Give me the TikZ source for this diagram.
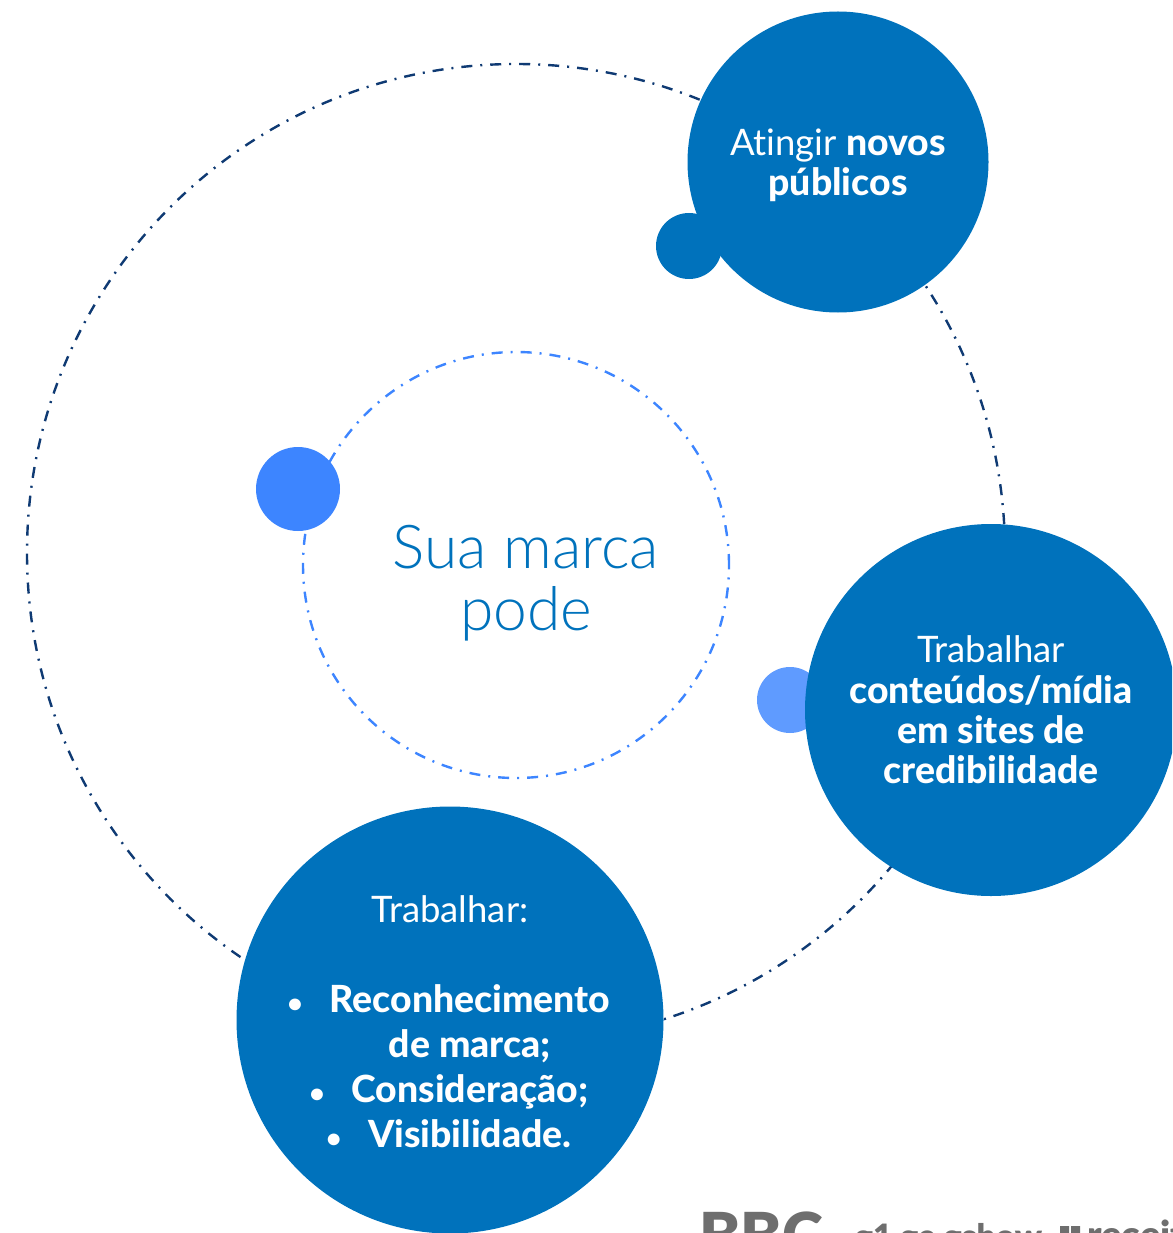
\documentclass[tikz,border=0pt]{standalone}
\usepackage{fontspec}
\setmainfont{Lato}[UprightFont=*,BoldFont=* Heavy,BoldFeatures={Scale=1.025},Ligatures=NoCommon]
\newfontfamily\titlefont{Lato}[UprightFont=* Light]
\newfontfamily\logofont{Lato}[UprightFont=* Black]
\definecolor{brandblue}{HTML}{0072BC}
\definecolor{ringnavy}{HTML}{0F3A73}
\definecolor{ringblue}{HTML}{3D85FF}
\definecolor{dotlight}{HTML}{5F9BFF}
\definecolor{logogray}{HTML}{6E6E6E}
\tikzset{
  x=1pt,y=-1pt,
  disc/.style={circle,fill=brandblue,inner sep=0pt},
  disctext/.style={text=white,inner sep=0pt,align=center,font=\fontsize{36.5}{40.3}\selectfont},
  smalldot/.style={circle,inner sep=0pt},
  ring/.style={circle,inner sep=0pt,line width=2.4pt,dash pattern=on 11pt off 8pt on 2pt off 8pt},
  logotext/.style={anchor=base west,inner sep=0pt,text=logogray}
}
\newcommand{\bul}[1]{\hspace*{40pt}\makebox[0pt][r]{{\fontsize{25}{25}\selectfont•}\hspace{27pt}}#1}
\begin{document}
\begin{tikzpicture}
\useasboundingbox (0,0) rectangle (1172,1233);
\clip (0,0) rectangle (1172,1233);
\node[ring,draw=ringnavy,minimum size=978pt] (outer) at (516,553) {};
\node[ring,draw=ringblue,minimum size=426pt] (inner) at (516,565) {};
\node[smalldot,fill=brandblue,minimum size=66pt] (dota) at (689,246) {};
\node[disc,minimum size=301pt] (top) at (838,162) {};
\node[disctext] (toptext) at (838,165) {Atingir \textbf{novos}\\\textbf{públicos}};
\node[smalldot,fill=dotlight,minimum size=66pt] (dotb) at (790,700) {};
\node[disc,minimum size=372pt] (right) at (991,710) {};
\node[disctext] (righttext) at (991,710) {Trabalhar\\\textbf{conteúdos/mídia}\\\textbf{em sites de}\\\textbf{credibilidade}};
\node[smalldot,fill=ringblue,minimum size=84pt] (dotc) at (298,489) {};
\node[disc,minimum size=427pt] (left) at (450,1020) {};
\node[disctext,font=\fontsize{36.5}{45}\selectfont] (lefttext) at (450,1022) {Trabalhar:\\[0pt]\\[0pt]\textbf{\bul{Reconhecimento}}\\\textbf{\hspace*{40pt}de marca;}\\\textbf{\bul{Consideração;}}\\\textbf{\bul{Visibilidade.}}};
\node[inner sep=0pt,align=center,text=brandblue,font=\titlefont\fontsize{60.5}{62}\selectfont] (title) at (526,583) {Sua marca\\pode};
\node[logotext,font=\logofont\fontsize{62}{62}\selectfont] (bbc) at (699,1257) {BBC};
\node[logotext,font=\logofont\fontsize{33.5}{33.5}\selectfont] (brands) at (855,1248) {g1 ge gshow};
\fill[logogray] (1060,1226) rectangle (1069,1233) (1071,1226) rectangle (1080,1233);
\node[logotext,font=\logofont\fontsize{38}{38}\selectfont] (receita) at (1087,1248) {receit};
\end{tikzpicture}
\end{document}
